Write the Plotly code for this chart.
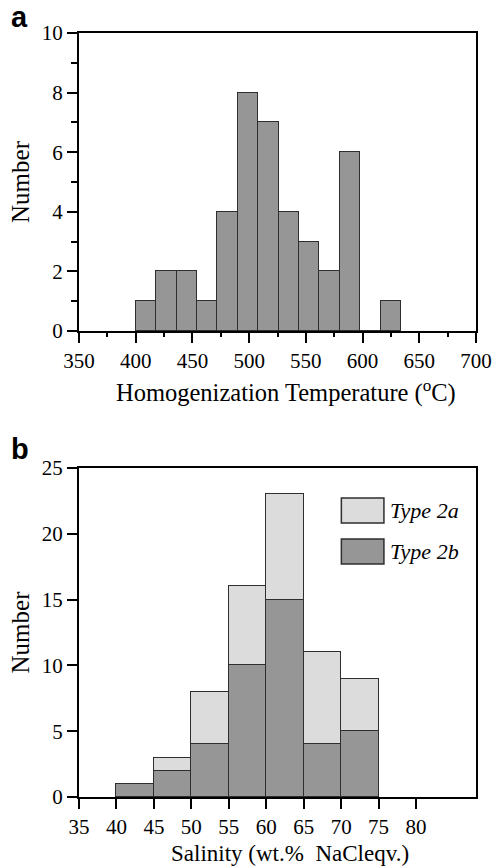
import plotly.graph_objects as go

# ---- Panel a data: homogenization temperature histogram ----
temp_bin_start = [400, 418, 436, 454, 472, 490, 508, 526, 544, 562, 580, 598, 616]
temp_bin_width = 18
temp_counts = [1, 2, 2, 1, 4, 8, 7, 4, 3, 2, 6, 0, 1]

# ---- Panel b data: salinity histogram (stacked) ----
sal_bin_start = [40, 45, 50, 55, 60, 65, 70]
sal_bin_width = 5
type2b_counts = [1, 2, 4, 10, 15, 4, 5]
type2a_counts = [0, 1, 4, 6, 8, 7, 4]

temp_ticks = [350, 400, 450, 500, 550, 600, 650, 700]
sal_ticks = [35, 40, 45, 50, 55, 60, 65, 70, 75, 80]

DARK = "#969696"
LIGHT = "#dcdcdc"
EDGE = "#2e2e2e"
SERIF = "Liberation Serif"

# plot-area geometry (pixels) used to convert to paper coords
L, T, W, H = 79, 33, 401, 764


def px_x(p):
    return (p - L) / W


def px_y(p):
    return 1 - (p - T) / H


fig = go.Figure()

fig.add_trace(go.Bar(
    x=temp_bin_start, y=temp_counts, width=temp_bin_width, offset=0,
    marker=dict(color=DARK, line=dict(color=EDGE, width=1)),
    xaxis="x", yaxis="y", showlegend=False, name="Th"))

fig.add_trace(go.Bar(
    x=sal_bin_start, y=type2b_counts, width=sal_bin_width, offset=0,
    marker=dict(color=DARK, line=dict(color=EDGE, width=1)),
    xaxis="x2", yaxis="y2", showlegend=False, name="Type 2b"))
fig.add_trace(go.Bar(
    x=sal_bin_start, y=type2a_counts, width=sal_bin_width, offset=0,
    marker=dict(color=LIGHT, line=dict(color=EDGE, width=1)),
    xaxis="x2", yaxis="y2", showlegend=False, name="Type 2a"))

axis_common = dict(
    showline=True, linecolor="black", linewidth=2, mirror=True,
    ticks="outside", tickcolor="black", tickwidth=2, ticklen=10,
    showgrid=False, zeroline=False,
    tickfont=dict(family=SERIF, size=21, color="black"),
)
title_font = dict(family=SERIF, size=25, color="black")

fig.update_layout(
    width=504, height=868,
    margin=dict(l=L, r=504 - L - W, t=T, b=868 - T - H),
    paper_bgcolor="white", plot_bgcolor="white",
    barmode="stack", bargap=0,
    font=dict(family=SERIF, color="black"),
    xaxis=dict(domain=[0, 1], anchor="y", range=[350, 700],
               tickvals=temp_ticks,
               minor=dict(dtick=25, tick0=350, ticks="outside", ticklen=4, tickwidth=2, tickcolor="black"),
               **axis_common),
    yaxis=dict(domain=[0.61, 1.0], anchor="x", range=[0, 10], dtick=2,
               minor=dict(dtick=1, ticks="outside", ticklen=6, tickwidth=2, tickcolor="black"),
               title=dict(text="Number", font=title_font, standoff=5),
               **axis_common),
    xaxis2=dict(domain=[0, 1], anchor="y2", range=[35, 88],
                tickvals=sal_ticks,
                **axis_common),
    yaxis2=dict(domain=[0, 0.4306], anchor="x2", range=[0, 25], dtick=5,
                title=dict(text="Number", font=title_font, standoff=5),
                **axis_common),
)

# x-axis titles (placed slightly right of centre as in the original)
fig.add_annotation(xref="paper", yref="paper", x=px_x(288), y=px_y(391),
                   xanchor="center", yanchor="middle", showarrow=False,
                   text="Homogenization Temperature (<sup>o</sup>C)",
                   font=dict(family=SERIF, size=24.5, color="black"))
fig.add_annotation(xref="paper", yref="paper", x=px_x(292), y=px_y(853.5),
                   xanchor="center", yanchor="middle", showarrow=False,
                   text="Salinity (wt.%  NaCleqv.)",
                   font=dict(family=SERIF, size=23, color="black"))

# Legend (drawn as swatches + labels inside panel b)
legend_items = [("Type 2a", LIGHT), ("Type 2b", DARK)]
legend_rows = [(498, 523), (539, 564)]
for (label, col), (y0p, y1p) in zip(legend_items, legend_rows):
    fig.add_shape(type="rect", xref="paper", yref="paper",
                  x0=px_x(344), x1=px_x(387), y0=px_y(y1p), y1=px_y(y0p),
                  fillcolor=col, line=dict(color=EDGE, width=1.5))
    fig.add_annotation(xref="paper", yref="paper",
                       x=px_x(391), y=px_y((y0p + y1p) / 2), xanchor="left", yanchor="middle",
                       text=f"<i>{label}</i>", showarrow=False,
                       font=dict(family=SERIF, size=22, color="black"))

# Panel letters
for letter, ypix in [("a", 17), ("b", 449)]:
    fig.add_annotation(xref="paper", yref="paper", x=px_x(8), y=px_y(ypix),
                       xanchor="left", yanchor="middle", text=f"<b>{letter}</b>",
                       showarrow=False,
                       font=dict(family="Liberation Sans", size=29, color="black"))

fig.write_html("out.html", config={"displayModeBar": False},
               post_script="document.body.style.margin='0';document.body.style.overflow='hidden';")
